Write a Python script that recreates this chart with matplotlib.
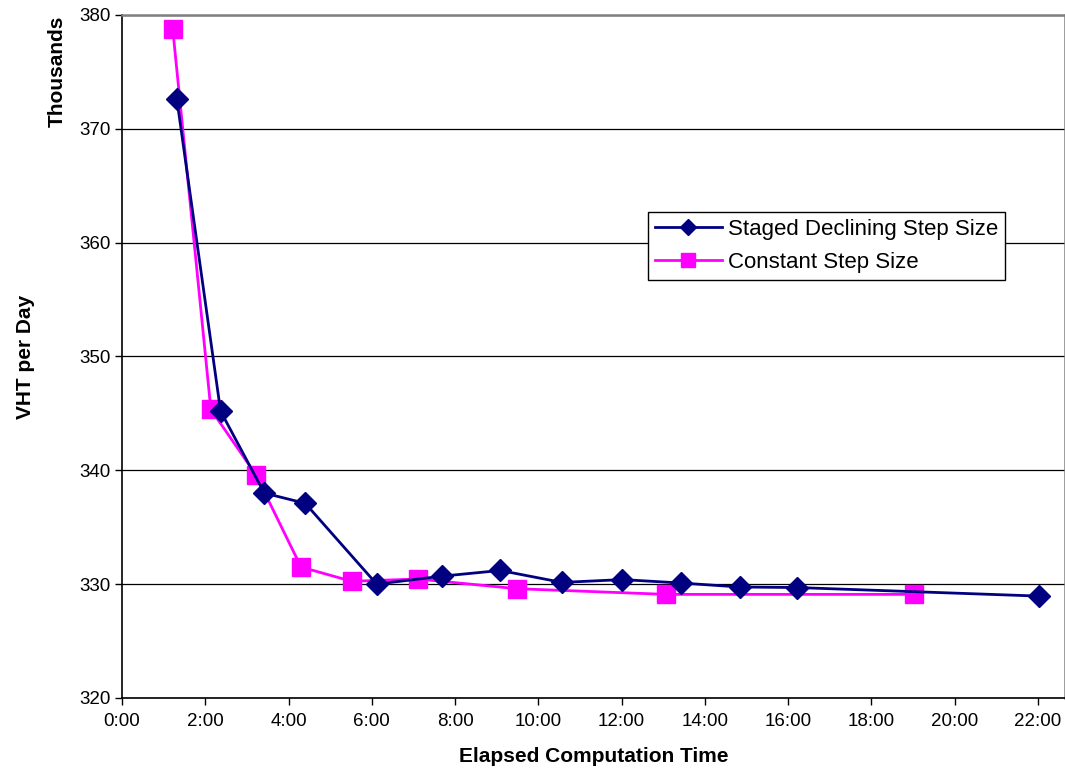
import matplotlib
matplotlib.use('Agg')
import matplotlib.pyplot as plt
from matplotlib.ticker import FuncFormatter

plt.rcParams['font.family'] = ['Liberation Sans', 'DejaVu Sans']

# elapsed time (h:mm) and VHT per day (thousands)
staged_times = ['1:19', '2:22', '3:25', '4:24', '6:07', '7:41', '9:05',
                '10:34', '12:01', '13:25', '14:50', '16:13', '22:01']
staged_vht = [372.6, 345.2, 338.0, 337.1, 330.0, 330.7, 331.2,
              330.15, 330.4, 330.1, 329.75, 329.7, 328.95]

constant_times = ['1:13', '2:08', '3:13', '4:18', '5:31', '7:06', '9:29',
                  '13:04', '19:02']
constant_vht = [378.8, 345.35, 339.6, 331.5, 330.25, 330.45, 329.6,
                329.1, 329.1]

x_tick_hours = list(range(0, 24, 2))
y_ticks = [320, 330, 340, 350, 360, 370, 380]


def to_hours(s):
    h, m = s.split(':')
    return int(h) + int(m) / 60.0


fig = plt.figure(figsize=(10.65, 7.72), dpi=100, facecolor='white')
ax = fig.add_axes([0.1146, 0.0959, 0.8854, 0.8847])

ax.plot([to_hours(t) for t in staged_times], staged_vht, color='#000080',
        linewidth=2, marker='D', markersize=11.5, markeredgecolor='#000080',
        label='Staged Declining Step Size', zorder=4)
ax.plot([to_hours(t) for t in constant_times], constant_vht, color='#FF00FF',
        linewidth=2, marker='s', markersize=13, markeredgecolor='#FF00FF',
        label='Constant Step Size', zorder=3)

ax.set_xlim(0, 22.65)
ax.set_ylim(320, 380)
ax.set_xticks(x_tick_hours)
ax.xaxis.set_major_formatter(FuncFormatter(lambda v, p: '%d:00' % int(round(v))))
ax.set_yticks(y_ticks)

ax.grid(axis='y', color='black', linewidth=0.9, zorder=1)
ax.set_axisbelow(True)

ax.tick_params(axis='both', direction='out', length=5, width=1, colors='black',
               labelsize=13.5)
ax.tick_params(axis='y', pad=3)
ax.tick_params(axis='x', pad=6)

for side in ['top', 'right']:
    ax.spines[side].set_color('#808080')
    ax.spines[side].set_linewidth(1.8)
for side in ['left', 'bottom']:
    ax.spines[side].set_color('black')
    ax.spines[side].set_linewidth(1.2)

ax.set_xlabel('Elapsed Computation Time', fontsize=15, fontweight='bold',
              labelpad=12)
ax.set_ylabel('VHT per Day', fontsize=15, fontweight='bold', labelpad=32)
fig.text(0.054, 0.98, 'Thousands', rotation=90, ha='center', va='top',
         fontsize=15, fontweight='bold')

leg = ax.legend(loc='upper left', bbox_to_anchor=(0.558, 0.711), fontsize=16,
                frameon=True, fancybox=False, framealpha=1, edgecolor='black',
                markerscale=0.75, handlelength=3, borderpad=0.3,
                labelspacing=0.55, handletextpad=0.3, borderaxespad=0)
leg.get_frame().set_linewidth(1)
leg.set_zorder(5)

fig.savefig('out.png', dpi=100, facecolor='white')
